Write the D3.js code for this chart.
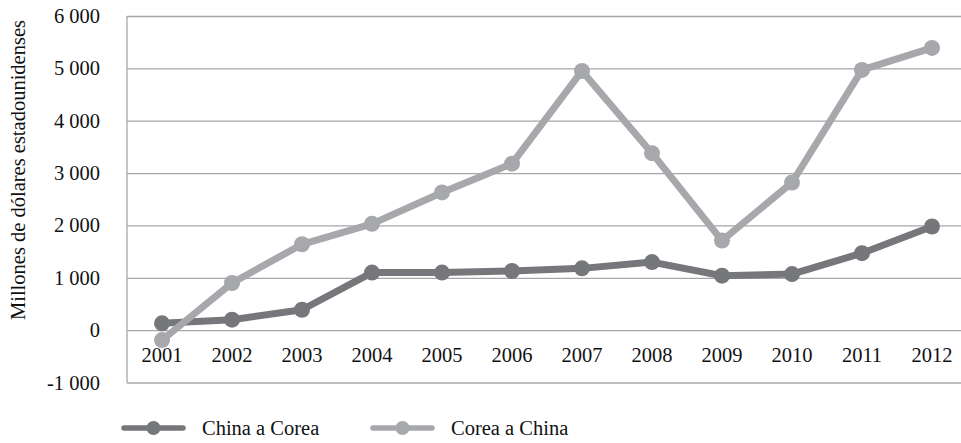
<!DOCTYPE html>
<html><head><meta charset="utf-8">
<script src="https://cdn.jsdelivr.net/npm/d3@7"></script>
<style>body{margin:0;background:#fff}svg{display:block}text{font-family:"Liberation Serif","Times New Roman",serif;fill:#111}</style>
</head><body><svg id="c" width="961" height="443"></svg>
<script>
const years = ["2001","2002","2003","2004","2005","2006","2007","2008","2009","2010","2011","2012"];
const chinaACorea = [130, 200, 390, 1100, 1100, 1130, 1180, 1300, 1040, 1070, 1470, 1980];
const coreaAChina = [-190, 900, 1640, 2030, 2630, 3180, 4950, 3380, 1710, 2820, 4970, 5390];
const seriesNames = ["China a Corea", "Corea a China"];
const yTicks = [-1000, 0, 1000, 2000, 3000, 4000, 5000, 6000];
const yTitle = "Millones de dólares estadounidenses";

const colors = ["#76777a", "#a7a8ab"];
const svg = d3.select("#c");
const L = 127, R = 967, T = 16, B = 382.5;
const x = d3.scaleBand().domain(years).range([L, R]);
const y = d3.scaleLinear().domain([-1000, 6000]).range([B, T]);
const loc = d3.formatLocale({decimal:",", thousands:" ", grouping:[3], currency:["",""], minus:"-"});
const fmt = loc.format(",d");
const FS = "20.5px";

// grid + y axis
const ya = svg.append("g").attr("transform", `translate(${L},0)`)
  .call(d3.axisLeft(y).tickValues(yTicks).tickSize(-(R - L)).tickPadding(27).tickFormat(fmt));
ya.select(".domain").remove();
ya.selectAll(".tick line").attr("stroke", "#a6a6a6").attr("stroke-width", 1.3);
ya.selectAll(".tick text").style("font-size", FS).attr("fill", "#111");
svg.append("line").attr("x1", L).attr("x2", L).attr("y1", y(6000)).attr("y2", y(-1000))
  .attr("stroke", "#a6a6a6").attr("stroke-width", 1.3);

// x labels
const xa = svg.append("g").attr("transform", `translate(0,${y(0)})`)
  .call(d3.axisBottom(x).tickSize(0).tickPadding(17));
xa.select(".domain").remove();
xa.selectAll(".tick text").style("font-size", FS).attr("fill", "#111");

// y title
svg.append("text").attr("transform", `translate(25,170) rotate(-90)`)
  .attr("text-anchor", "middle").style("font-size", FS).text(yTitle);

// series
const data = [chinaACorea, coreaAChina];
const line = d3.line().x((d, i) => x(years[i]) + x.bandwidth() / 2).y(d => y(d));
data.forEach((s, k) => {
  const g = svg.append("g");
  g.append("path").datum(s).attr("d", line).attr("fill", "none")
    .attr("stroke", colors[k]).attr("stroke-width", 7).attr("stroke-linejoin", "round");
  g.selectAll("circle").data(s).join("circle")
    .attr("cx", (d, i) => x(years[i]) + x.bandwidth() / 2).attr("cy", d => y(d))
    .attr("r", 8).attr("fill", colors[k]);
});

// legend
const legX = [124, 373];
seriesNames.forEach((n, k) => {
  const g = svg.append("g").attr("transform", `translate(${legX[k]},428)`);
  g.append("line").attr("x1", 0).attr("x2", 59).attr("stroke", colors[k])
    .attr("stroke-width", 5.5).attr("stroke-linecap", "round");
  g.append("circle").attr("cx", 29.5).attr("r", 7).attr("fill", colors[k]);
  g.append("text").attr("x", 78).attr("y", 7).style("font-size", FS).text(n);
});
</script></body></html>
